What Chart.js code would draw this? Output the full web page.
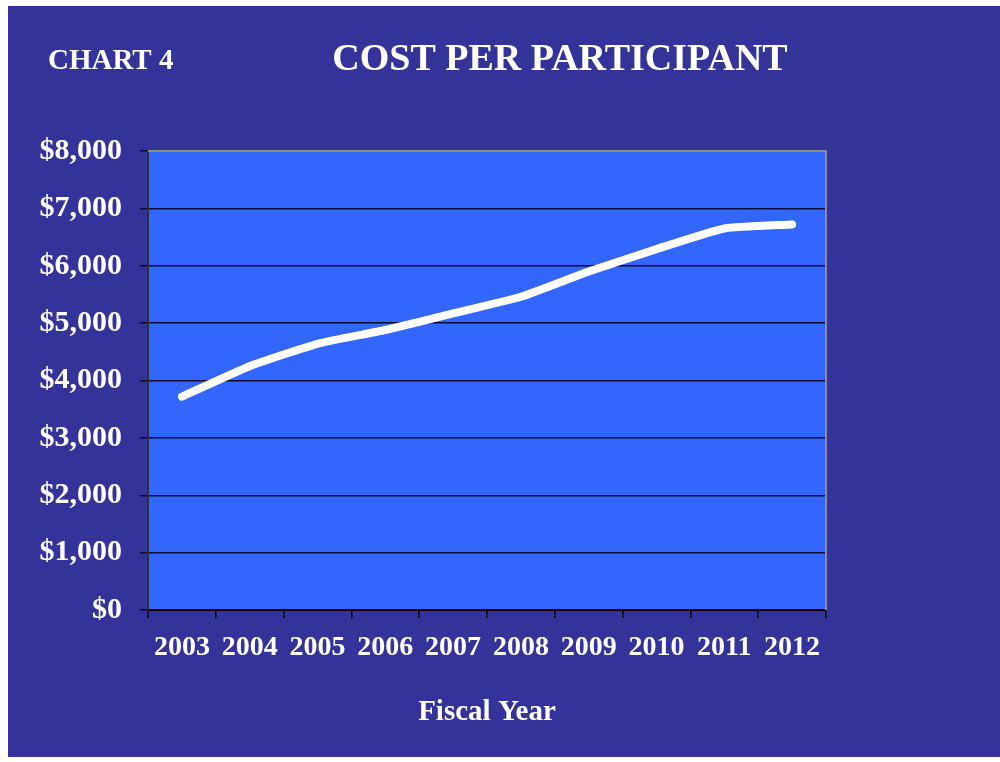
<!DOCTYPE html>
<html>
<head>
<meta charset="utf-8">
<script src="https://cdn.jsdelivr.net/npm/chart.js@4/dist/chart.umd.min.js"></script>
<style>
  html, body { margin: 0; padding: 0; background: #ffffff; }
  #frame { position: absolute; left: 8px; top: 6px; width: 992px; height: 751px; background: #333399; }
  #wrap { position: absolute; left: 0; top: 0; width: 1000px; height: 762px; }
</style>
</head>
<body>
<div id="frame"></div>
<div id="wrap"><canvas id="chart" width="1000" height="762"></canvas></div>
<script>
// chart values
const years = ["2003", "2004", "2005", "2006", "2007", "2008", "2009", "2010", "2011", "2012"];
const costPerParticipant = [3720, 4250, 4640, 4880, 5170, 5460, 5900, 6290, 6650, 6720];
const chartLabel = "CHART 4";
const chartTitle = "COST PER PARTICIPANT";
const xAxisTitle = "Fiscal Year";

const SERIF = "'Liberation Serif', 'Times New Roman', serif";

// plot area fill + grey frame, and the two headings
const plotFrame = {
  id: "plotFrame",
  beforeDraw(chart) {
    const { ctx, chartArea: a } = chart;
    ctx.save();
    ctx.fillStyle = "#3366ff";
    ctx.fillRect(a.left, a.top, a.right - a.left, a.bottom - a.top);
    ctx.restore();
  },
  afterDatasetsDraw(chart) {
    const { ctx, chartArea: a } = chart;
    ctx.save();
    ctx.strokeStyle = "#8c8c8c";
    ctx.lineWidth = 2;
    ctx.beginPath();
    ctx.moveTo(a.left, a.top);
    ctx.lineTo(a.right, a.top);
    ctx.lineTo(a.right, a.bottom);
    ctx.stroke();

    ctx.fillStyle = "#ffffff";
    ctx.textBaseline = "middle";
    ctx.font = "bold 29px " + SERIF;
    ctx.textAlign = "left";
    ctx.fillText(chartLabel, 48, 62);
    ctx.font = "bold 38px " + SERIF;
    ctx.textAlign = "center";
    ctx.fillText(chartTitle, 560, 60);
    ctx.restore();
  }
};

new Chart(document.getElementById("chart"), {
  type: "line",
  data: {
    labels: years,
    datasets: [
      {
        label: chartTitle,
        data: costPerParticipant,
        borderColor: "#ffffff",
        borderWidth: 8,
        borderCapStyle: "round",
        borderJoinStyle: "round",
        pointRadius: 0,
        tension: 0.15,
        fill: false,
      },
    ],
  },
  options: {
    responsive: false,
    animation: false,
    layout: { padding: { top: 151, right: 174, left: 0, bottom: 0 } },
    plugins: {
      legend: { display: false },
      tooltip: { enabled: false },
    },
    scales: {
      x: {
        offset: true,
        grid: {
          offset: true,
          drawOnChartArea: false,
          color: "#000000",
          lineWidth: 1.5,
          tickLength: 8,
        },
        border: { color: "#000000", width: 2 },
        ticks: {
          color: "#ffffff",
          font: { family: SERIF, size: 28, weight: "bold" },
          padding: 13,
          maxRotation: 0,
          autoSkip: false,
        },
        title: {
          display: true,
          text: xAxisTitle,
          color: "#ffffff",
          font: { family: SERIF, size: 29, weight: "bold" },
          padding: { top: 32, bottom: 32 },
        },
        afterFit(scale) { scale.height = 152; },
      },
      y: {
        min: 0,
        max: 8000,
        ticks: {
          stepSize: 1000,
          color: "#ffffff",
          font: { family: SERIF, size: 30, weight: "bold" },
          padding: 18,
          callback: (v) => "$" + Number(v).toLocaleString("en-US"),
        },
        grid: {
          color: "#0a0a33",
          lineWidth: 1.5,
          tickLength: 8,
        },
        border: { color: "#303030", width: 2 },
        afterFit(scale) { scale.width = 148; },
      },
    },
  },
  plugins: [plotFrame],
});
</script>
</body>
</html>
